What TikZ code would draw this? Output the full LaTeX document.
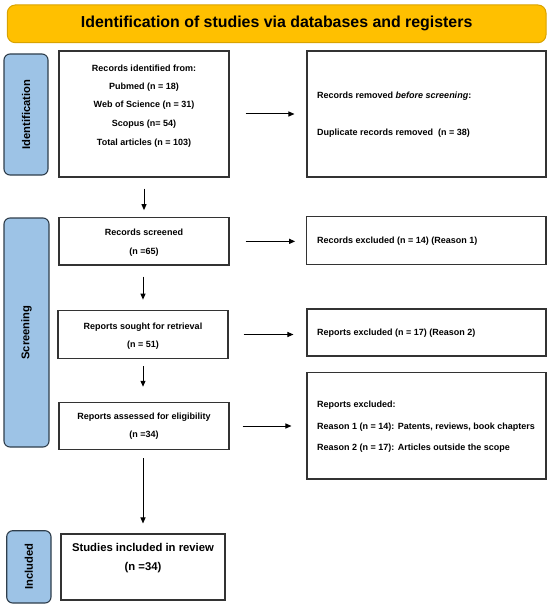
\documentclass[tikz,border=0pt]{standalone}
\usepackage{fontspec}
\setmainfont{Liberation Sans}
\usetikzlibrary{arrows.meta}
\definecolor{titlefill}{HTML}{FFC000}
\definecolor{titleline}{HTML}{D9A300}
\definecolor{sidefill}{HTML}{9DC3E6}
\definecolor{sideline}{HTML}{2F3E4C}
\definecolor{boxline}{HTML}{333333}
\begin{document}
\begin{tikzpicture}[x=1pt,y=-1pt,
  box/.style={draw=boxline, line width=1.1pt, fill=white, inner sep=0pt},
  side/.style={draw=sideline, fill=sidefill, line width=1.1pt, rounded corners=6pt, inner sep=0pt},
  txt/.style={font=\fontsize{9}{11}\selectfont\bfseries, inner sep=0pt, anchor=mid},
  ltxt/.style={txt, anchor=mid west},
  sidetxt/.style={font=\fontsize{11.2}{13}\selectfont\bfseries, inner sep=0pt, rotate=90},
  arr/.style={-{Triangle[length=6pt,width=5pt]}, line width=1pt, black}]
\useasboundingbox (0,0) rectangle (550,607);
% title
\node[draw=titleline, fill=titlefill, line width=1pt, rounded corners=8pt, minimum width=538.7pt, minimum height=37.7pt, inner sep=0pt] (title) at (276.65,23.85) {};
\node[font=\fontsize{15.9}{18}\selectfont\bfseries, inner sep=0pt, anchor=mid] (titletxt) at (276.65,24.5) {Identification of studies via databases and registers};
% side labels
\node[side, minimum width=44pt, minimum height=121pt] (sideid) at (26,114.5) {};
\node[sidetxt] (sideidtxt) at (sideid.center) {Identification};
\node[side, minimum width=45pt, minimum height=229pt] (sidescr) at (26.5,332.5) {};
\node[sidetxt] (sidescrtxt) at (sidescr.center) {Screening};
\node[side, minimum width=44.3pt, minimum height=72.3pt] (sideinc) at (28.85,566.85) {};
\node[sidetxt] (sideinctxt) at (sideinc.center) {Included};
% boxes
\node[box, minimum width=170pt, minimum height=126pt] (id) at (144,114) {};
\node[box, minimum width=239pt, minimum height=126pt] (rb1) at (426.5,114) {};
\node[box, minimum width=170pt, minimum height=47.3pt] (scr) at (144,241.35) {};
\node[box, minimum width=239.3pt, minimum height=47.5pt] (rb2) at (426.35,240.5) {};
\node[box, minimum width=170pt, minimum height=47.6pt] (sought) at (143,334.5) {};
\node[box, minimum width=239pt, minimum height=47pt] (rb3) at (426.5,332.5) {};
\node[box, minimum width=170pt, minimum height=47.4pt] (assess) at (144,426) {};
\node[box, minimum width=239pt, minimum height=106.7pt] (rb4) at (426.5,425.65) {};
\node[box, minimum width=164pt, minimum height=66pt] (inc) at (143,567) {};
% texts
\node[txt] (t1) at (144,69) {Records identified from:};
\node[txt] (t2) at (144,87.3) {Pubmed (n = 18)};
\node[txt] (t3) at (144,105.3) {Web of Science (n = 31)};
\node[txt] (t4) at (144,124) {Scopus (n= 54)};
\node[txt] (t5) at (144,142.7) {Total articles (n = 103)};
\node[ltxt] (r1a) at (317,96.3) {Records removed \textit{before screening}:};
\node[ltxt] (r1b) at (317,133.3) {Duplicate records removed\ \ (n = 38)};
\node[txt] (s1) at (144,232.7) {Records screened};
\node[txt] (s2) at (144,251.7) {(n =65)};
\node[ltxt] (r2a) at (317,241) {Records excluded (n = 14) (Reason 1)};
\node[txt] (g1) at (143,326.7) {Reports sought for retrieval};
\node[txt] (g2) at (143,345.3) {(n = 51)};
\node[ltxt] (r3a) at (317,333.3) {Reports excluded (n = 17) (Reason 2)};
\node[txt] (a1) at (144,417.3) {Reports assessed for eligibility};
\node[txt] (a2) at (144,435) {(n =34)};
\node[ltxt] (r4a) at (317,405) {Reports excluded:};
\node[ltxt] (r4b) at (317,426.7) {Reason 1 (n = 14): Patents, reviews, book chapters};
\node[ltxt] (r4c) at (317,448.3) {Reason 2 (n = 17): Articles outside the scope};
\node[font=\fontsize{11.3}{13}\selectfont\bfseries, inner sep=0pt, anchor=mid] (i1) at (143,549) {Studies included in review};
\node[font=\fontsize{11.3}{13}\selectfont\bfseries, inner sep=0pt, anchor=mid] (i2) at (143,567.7) {(n =34)};
% arrows
\draw[arr, shorten <=16pt, shorten >=12pt] (id.east) -- (rb1.west);
\draw[arr, shorten <=16pt, shorten >=11pt] (scr.east) -- (scr.east -| rb2.west);
\draw[arr, shorten <=15pt, shorten >=13pt] (sought.east) -- (sought.east -| rb3.west);
\draw[arr, shorten <=13pt, shorten >=15pt] (assess.east) -- (assess.east -| rb4.west);
\draw[arr, shorten <=11pt, shorten >=7pt] (id.south) -- (scr.north);
\draw[arr, shorten <=11pt, shorten >=10.5pt] (sought.north |- scr.south) -- (sought.north);
\draw[arr, shorten <=7.4pt, shorten >=15pt] (sought.south) -- (sought.south |- assess.north);
\draw[arr, shorten <=8pt, shorten >=10pt] (inc.north |- assess.south) -- (inc.north);
\end{tikzpicture}
\end{document}
